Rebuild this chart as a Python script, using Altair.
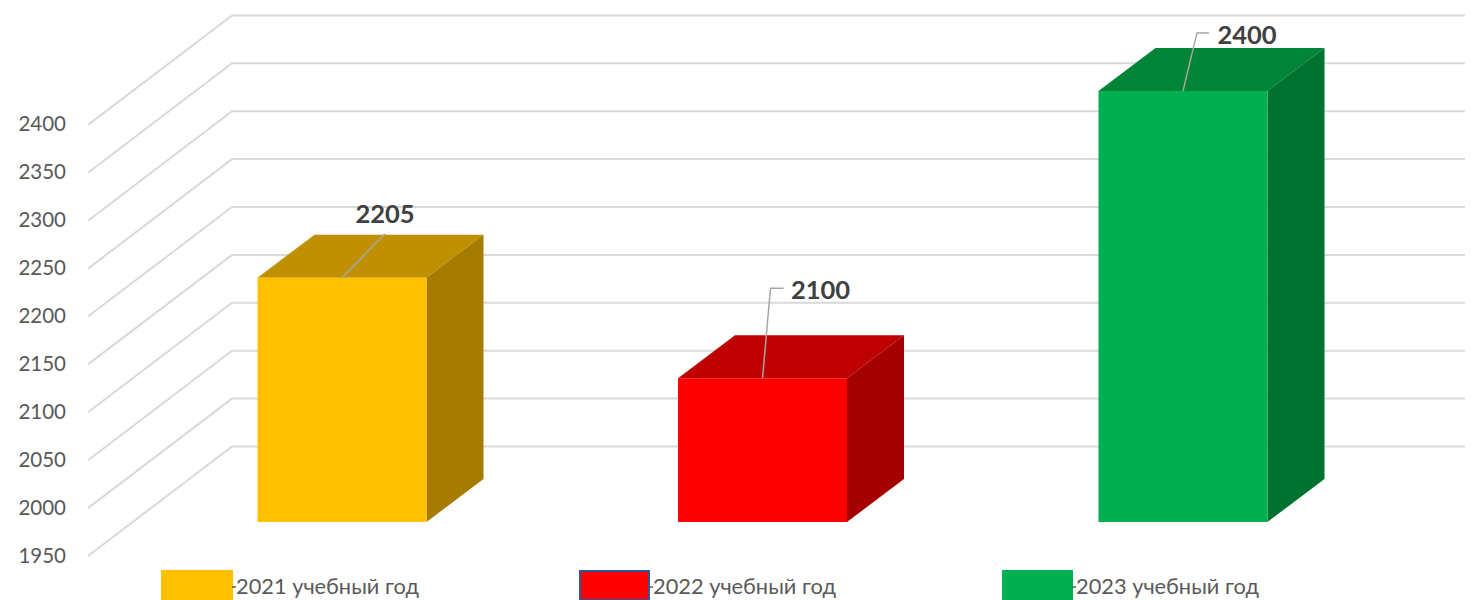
import altair as alt
import pandas as pd

# ---- values
categories = ["2021 учебный год", "2022 учебный год", "2023 учебный год"]
values = [2205, 2100, 2400]
tick_values = [1950, 2000, 2050, 2100, 2150, 2200, 2250, 2300, 2350, 2400]

# ---- styles
front = ["#FFC000", "#FF0000", "#00B050"]
top_c = ["#BF9000", "#BF0000", "#008437"]
side_c = ["#A67C00", "#A50000", "#00722F"]
legend_stroke = ["#FFC000", "#2F5597", "#00B050"]
GRID = "#D9D9D9"
TXT = "#595959"
LBL = "#404040"
LEAD = "#A6A6A6"
FONT = "Lato"

# ---- layout: page geometry of the pseudo-3D projection (pixels)
W, H, M = 1457, 592, 8
PX_X = 420.5      # pixels per category step
PX_Y = 0.958      # pixels per value unit
X0, Y0 = 342, 522 # first category centre / baseline 1950 on the front plane
HALF = 84.5       # half bar width
DX, DY = 57, 43   # bar depth
BASE = 1950
WALL_X = 232
WALL_LEFT_X = 88
WALL_UP = 75.5    # back wall above front plane, px
WALL_DOWN = 34    # left wall end below front plane, px
dx = lambda p: p / PX_X
dy = lambda p: p / PX_Y
xd = lambda px: (px - X0) / PX_X
yd = lambda py: BASE + (Y0 - py) / PX_Y

label_off = [(43, -63), (58, -87), (64, -55)]
lead_off = [[(0, 0), (43, -44)], [(0, 0), (8, -90), (21, -90)], [(0, 0), (14, -58), (26, -58)]]
legend_x = [(162, 232), (580, 649), (1003, 1072)]
legend_y = (571, M + H)

xs = alt.Scale(domain=[xd(M), xd(M + W)], range=[0, W], nice=False, zero=False)
ys = alt.Scale(domain=[yd(M + H), yd(M)], range=[H, 0], nice=False, zero=False)
X = lambda f="x": alt.X(f"{f}:Q", scale=xs, axis=None)
Y = lambda f="y": alt.Y(f"{f}:Q", scale=ys, axis=None)

# ---- walls
wall, ticks = [], []
for t in tick_values:
    wall.append({"k": t, "x": xd(WALL_LEFT_X), "y": t - dy(WALL_DOWN)})
    wall.append({"k": t, "x": xd(WALL_X), "y": t + dy(WALL_UP)})
    wall.append({"k": t, "x": xd(M + W), "y": t + dy(WALL_UP)})
    ticks.append({"x": xd(66), "y": t - dy(34.5), "t": str(t)})

# ---- bars
fronts, faces, leads, labels = [], [], [], []
for i, v in enumerate(values):
    l, r = i - dx(HALF), i + dx(HALF)
    fronts.append({"x": l, "x2": r, "y": BASE, "y2": v, "c": front[i]})
    faces += [
        {"f": f"t{i}", "c": top_c[i], "x": l, "y": v, "y2": v},
        {"f": f"t{i}", "c": top_c[i], "x": l + dx(DX), "y": v + dy(DY), "y2": v},
        {"f": f"t{i}", "c": top_c[i], "x": r, "y": v + dy(DY), "y2": v},
        {"f": f"t{i}", "c": top_c[i], "x": r + dx(DX), "y": v + dy(DY), "y2": v + dy(DY)},
        {"f": f"s{i}", "c": side_c[i], "x": r, "y": v, "y2": BASE},
        {"f": f"s{i}", "c": side_c[i], "x": r + dx(DX), "y": v + dy(DY), "y2": BASE + dy(DY)},
    ]
    for j, (ox, oy) in enumerate(lead_off[i]):
        leads.append({"k": i, "o": j, "x": i + dx(ox), "y": v - dy(oy)})
    labels.append({"x": i + dx(label_off[i][0]), "y": v - dy(label_off[i][1]), "t": str(v)})

# ---- legend
swatches, dashes, legend_text = [], [], []
for i, c in enumerate(categories):
    a, b = legend_x[i]
    swatches.append({"x": xd(a), "x2": xd(b), "y": yd(legend_y[0]), "y2": yd(legend_y[1]),
                     "c": front[i], "s": legend_stroke[i]})
    dashes.append({"k": i, "x": xd(b), "y": yd(587)})
    dashes.append({"k": i, "x": xd(b + 4), "y": yd(587)})
    legend_text.append({"x": xd(b + 4), "y": yd(587), "t": c})

grid_layer = alt.Chart(pd.DataFrame(wall)).mark_line(color=GRID, strokeWidth=2).encode(
    x=X(), y=Y(), detail="k:N", order="x:Q")
tick_layer = alt.Chart(pd.DataFrame(ticks)).mark_text(
    align="right", baseline="middle", font=FONT, fontSize=20.5, color=TXT
).encode(x=X(), y=Y(), text="t:N")
face_layer = alt.Chart(pd.DataFrame(faces)).mark_area(orient="vertical", interpolate="linear").encode(
    x=X(), y=Y(), y2="y2:Q", detail="f:N", fill=alt.Fill("c:N", scale=None, legend=None))
front_layer = alt.Chart(pd.DataFrame(fronts)).mark_rect().encode(
    x=X(), x2="x2:Q", y=Y(), y2="y2:Q", fill=alt.Fill("c:N", scale=None, legend=None))
lead_layer = alt.Chart(pd.DataFrame(leads)).mark_line(color=LEAD, strokeWidth=1.5).encode(
    x=X(), y=Y(), detail="k:N", order="o:Q")
label_layer = alt.Chart(pd.DataFrame(labels)).mark_text(
    align="center", baseline="middle", font=FONT, fontSize=25.5, fontWeight="bold", color=LBL
).encode(x=X(), y=Y(), text="t:N")
swatch_layer = alt.Chart(pd.DataFrame(swatches)).mark_rect(strokeWidth=2).encode(
    x=X(), x2="x2:Q", y=Y(), y2="y2:Q",
    fill=alt.Fill("c:N", scale=None, legend=None),
    stroke=alt.Stroke("s:N", scale=None, legend=None))
dash_layer = alt.Chart(pd.DataFrame(dashes)).mark_line(color="#595959", strokeWidth=1.5).encode(
    x=X(), y=Y(), detail="k:N")
legend_layer = alt.Chart(pd.DataFrame(legend_text)).mark_text(
    align="left", baseline="middle", font=FONT, fontSize=21.8, color=TXT
).encode(x=X(), y=Y(), text="t:N")

chart = alt.layer(
    grid_layer, tick_layer, face_layer, front_layer, lead_layer, label_layer,
    swatch_layer, dash_layer, legend_layer
).properties(width=W, height=H, padding=0, background="white",
             autosize=alt.AutoSizeParams(type="none")).configure_view(stroke=None)

chart.save("out.html", embed_options={"renderer": "svg", "actions": False})
